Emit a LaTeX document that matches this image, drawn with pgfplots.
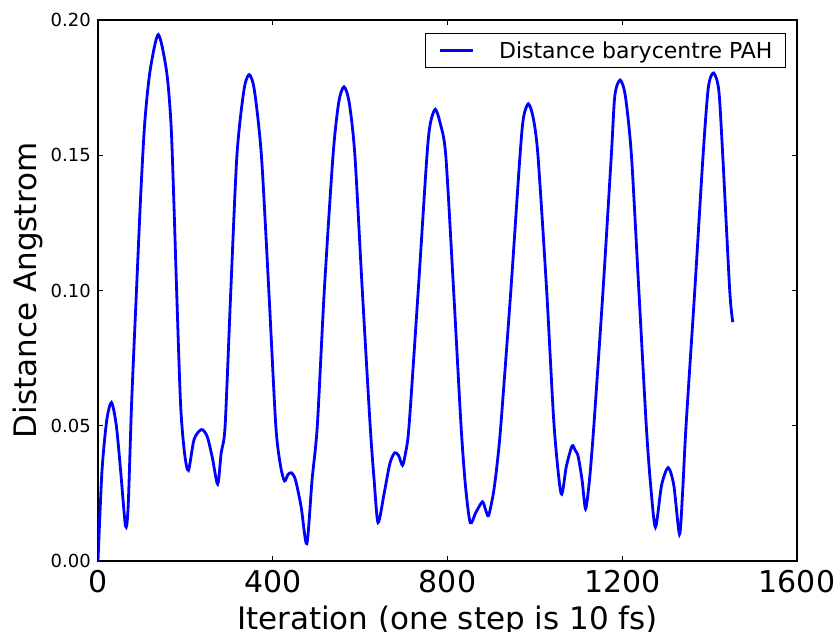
\documentclass[border=0pt]{standalone}
\usepackage{fontspec}
\setmainfont{DejaVu Sans}
\usepackage{pgfplots}
\pgfplotsset{compat=1.18}
\definecolor{mplblue}{RGB}{0,0,255}
\begin{document}
\begin{tikzpicture}
\begin{axis}[
  scale only axis,
  width=699bp, height=541bp,
  xmin=0, xmax=1600, ymin=0, ymax=0.2,
  xtick={0,400,800,1200,1600},
  xticklabels={0,400,800,1200,1600},
  ytick={0,0.05,0.10,0.15,0.20},
  yticklabels={0.00,0.05,0.10,0.15,0.20},
  scaled y ticks=false,
  axis line style={line width=1.3bp},
  major tick style={line width=1.3bp, black},
  major tick length=5bp,
  tick align=inside,
  xticklabel style={font=\fontsize{30bp}{36bp}\selectfont, anchor=base, yshift=-31bp, inner sep=0pt},
  yticklabel style={font=\fontsize{18bp}{22bp}\selectfont, anchor=east, inner sep=0pt, xshift=-7bp},
  xlabel={Iteration (one step is 10 fs)},
  ylabel={Distance Angstrom},
  xlabel style={font=\fontsize{31bp}{37bp}\selectfont, at={(axis description cs:0.5,0)}, anchor=base, yshift=-68bp, inner sep=0pt},
  ylabel style={font=\fontsize{31bp}{37bp}\selectfont, at={(axis description cs:0,0.5)}, anchor=base, yshift=61bp, inner sep=0pt},
  legend style={at={(axis description cs:1,1)}, anchor=north east, xshift=-11bp, yshift=-13bp,
    draw=black, line width=1bp, font=\fontsize{22bp}{26bp}\selectfont,
    inner xsep=13bp, inner ysep=8bp, row sep=0pt, column sep=0pt, nodes={inner sep=0pt}},
  legend cell align=left,
  legend image code/.code={\draw[#1, line width=3bp] (0bp,0bp) -- (33bp,0bp); \path[draw=none] (0bp,0bp) -- (59bp,0bp);},
]
\addplot[mplblue, line width=2.8bp, smooth, tension=0.45] coordinates {
(0,0.000) (9,0.033) (20,0.052) (31,0.0586) (42,0.050) (52,0.033) (63,0.0129)
(69,0.020) (77,0.0586) (88,0.0997) (98,0.136) (107,0.162) (119,0.181) (138,0.1946) (157,0.181)
(167,0.162) (173,0.136) (180,0.100) (189,0.058) (198,0.040) (207,0.0335) (220,0.045) (237,0.0486)
(250,0.046) (262,0.038) (274,0.0284) (282,0.040) (291,0.050) (304,0.100) (318,0.150)
(334,0.174) (346,0.1798) (358,0.174) (374,0.150) (391,0.100) (407,0.050) (418,0.035)
(427,0.0296) (435,0.032) (443,0.0326) (452,0.030) (465,0.020) (478,0.0064) (490,0.030)
(502,0.050) (518,0.100) (538,0.150) (551,0.1695) (563,0.1753) (575,0.1695) (588,0.150)
(605,0.100) (623,0.050) (632,0.030) (641,0.0142) (655,0.025) (668,0.036) (679,0.040)
(688,0.039) (697,0.0354) (704,0.040) (712,0.050) (733,0.100) (753,0.150) (761,0.162)
(772,0.167) (783,0.162) (796,0.150) (814,0.100) (831,0.050) (841,0.028) (852,0.0142)
(865,0.018) (880,0.0219) (887,0.019) (894,0.0168) (905,0.025) (913,0.035) (922,0.050)
(945,0.100) (966,0.150) (974,0.164) (985,0.169) (996,0.164) (1007,0.150) (1027,0.100)
(1044,0.050) (1060,0.0249) (1072,0.035) (1085,0.0425) (1092,0.041) (1099,0.0387)
(1108,0.030) (1116,0.0193) (1125,0.030) (1135,0.050) (1156,0.100) (1175,0.150)
(1183,0.172) (1195,0.1778) (1207,0.172) (1221,0.150) (1238,0.100) (1255,0.050)
(1265,0.028) (1276,0.0125) (1290,0.028) (1305,0.0345) (1318,0.028) (1331,0.0099)
(1338,0.025) (1346,0.050) (1366,0.100) (1385,0.150) (1397,0.175) (1409,0.1804)
(1421,0.174) (1430,0.150) (1446,0.100) (1453,0.0883)
};
\addlegendentry{Distance barycentre PAH}
\end{axis}
\pgfresetboundingbox
\path[use as bounding box] (-98bp,-71bp) rectangle (739bp,561bp);
\end{tikzpicture}
\end{document}
